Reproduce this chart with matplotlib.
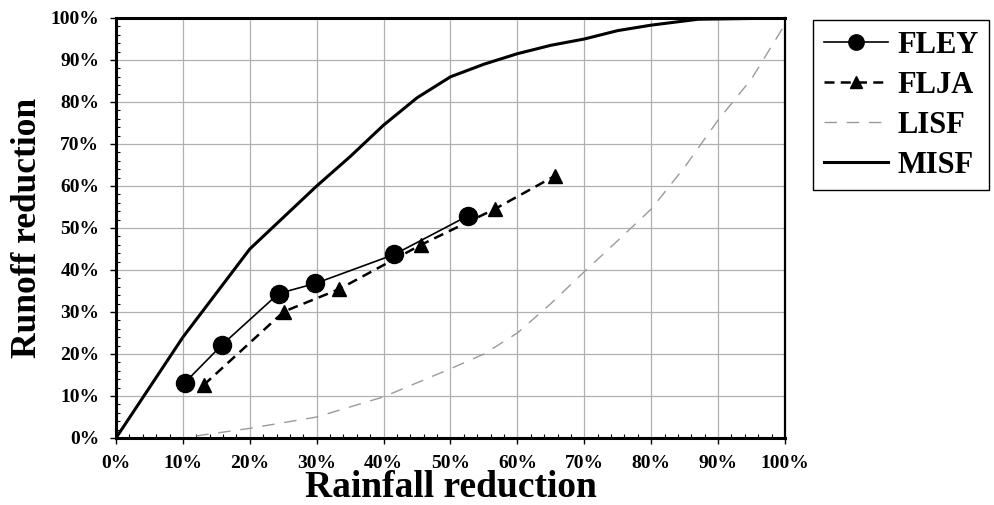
import numpy as np
import matplotlib
matplotlib.use("Agg")
import matplotlib.pyplot as plt
from matplotlib.ticker import MultipleLocator, PercentFormatter


# rainfall reduction (%) / runoff reduction (%)
fley_x = [10.3, 15.8, 24.3, 29.8, 41.6, 52.6]
fley_y = [13.2, 22.1, 34.4, 36.8, 43.7, 52.9]

flja_x = [13.1, 25.1, 33.3, 45.6, 56.6, 65.6]
flja_y = [12.6, 30.1, 35.4, 46.0, 54.5, 62.4]

lisf_x = [12, 20, 30, 40, 50, 55, 60, 65, 70, 75, 80, 85, 90, 95, 100]
lisf_y = [0.5, 2.3, 5.0, 9.8, 16.5, 20.0, 25.0, 32.0, 39.6, 47.0, 54.5, 64.5, 75.7, 85.5, 98.5]

misf_x = [0, 5, 10, 15, 20, 25, 30, 35, 40, 45, 50, 55, 60, 65, 70, 75, 80, 87, 100]
misf_y = [0, 12, 24, 34.5, 45, 52.5, 60, 67, 74.5, 81, 86, 89, 91.5, 93.5, 95, 97, 98.3, 99.7, 100]


def apply_plot_style():
    plt.rcParams.update({
        "font.family": ["Liberation Serif", "DejaVu Serif"],
        "font.weight": "bold",
        "axes.labelweight": "bold",
    })


def plot_reduction(filename):
    apply_plot_style()

    fig = plt.figure(figsize=(9.95, 5.05), dpi=100)
    ax = fig.add_axes([116 / 995, 67 / 505, 669 / 995, 420 / 505])

    ax.plot(fley_x, fley_y, color="black", linewidth=1.2,
            marker="o", markersize=13, label="FLEY", zorder=4)
    ax.plot(flja_x, flja_y, color="black", linewidth=1.8, linestyle=(0, (4, 2.5)),
            marker="^", markersize=10, label="FLJA", zorder=4)
    ax.plot(lisf_x, lisf_y, color="#9a9a9a", linewidth=1.0, linestyle=(0, (9, 7)),
            label="LISF", zorder=3)
    ax.plot(misf_x, misf_y, color="black", linewidth=2.2, label="MISF", zorder=3)

    ax.set_xlim(0, 100)
    ax.set_ylim(0, 100)

    ax.xaxis.set_major_locator(MultipleLocator(10))
    ax.yaxis.set_major_locator(MultipleLocator(10))
    ax.xaxis.set_minor_locator(MultipleLocator(2))
    ax.yaxis.set_minor_locator(MultipleLocator(2))
    ax.xaxis.set_major_formatter(PercentFormatter(decimals=0))
    ax.yaxis.set_major_formatter(PercentFormatter(decimals=0))

    ax.grid(True, which="major", color="#b0b0b0", linewidth=0.9)
    ax.set_axisbelow(True)

    ax.tick_params(which="major", direction="out", length=4, width=1,
                   labelsize=14, pad=8)
    ax.tick_params(which="minor", direction="in", length=3, width=0.8)

    for label in ax.get_xticklabels() + ax.get_yticklabels():
        label.set_fontweight("bold")

    for side in ["left", "bottom", "top"]:
        ax.spines[side].set_linewidth(2.2)
    ax.spines["right"].set_linewidth(1.6)

    ax.set_xlabel("Rainfall reduction", fontsize=27, labelpad=-1)
    ax.set_ylabel("Runoff reduction", fontsize=25.5, labelpad=5)

    legend = ax.legend(
        loc="upper left",
        bbox_to_anchor=(813 / 995, 1 - 20 / 505),
        bbox_transform=fig.transFigure,
        fancybox=False,
        edgecolor="black",
        framealpha=1,
        fontsize=22,
        handlelength=2.1,
        handletextpad=0.3,
        labelspacing=0.36,
        borderpad=0.35,
        borderaxespad=0,
        markerscale=0.85,
    )
    legend.get_frame().set_linewidth(1.0)
    for text in legend.get_texts():
        text.set_fontweight("bold")

    fig.savefig(filename, dpi=100)
    plt.close(fig)


if __name__ == "__main__":
    plot_reduction("out.png")
